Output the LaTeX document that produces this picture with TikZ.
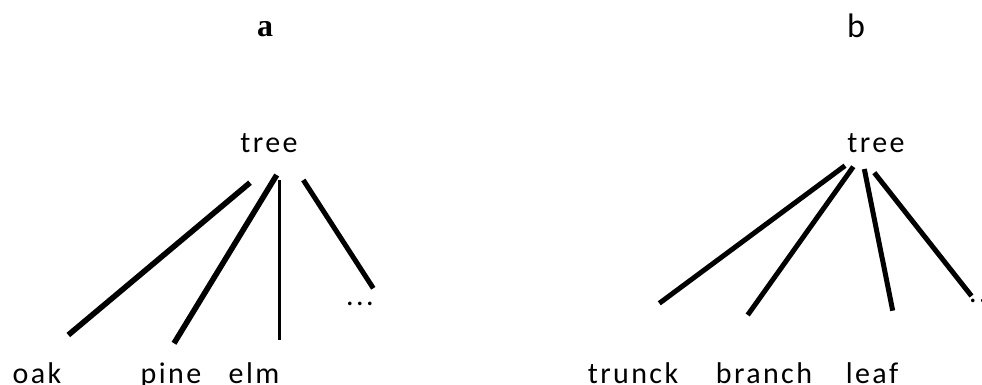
\documentclass[tikz,border=0pt]{standalone}
\usepackage{fontspec}
\newfontfamily\lblfont{Carlito}[LetterSpace=8]
\newfontfamily\bfont{Carlito}
\newfontfamily\afont{Liberation Serif}[BoldFont={Liberation Serif Bold}]
\begin{document}
\begin{tikzpicture}[x=1pt,y=-1pt,
  lbl/.style={inner sep=0pt,anchor=base,font=\lblfont\fontsize{30}{34}\selectfont},
  edgethick/.style={line width=5.6pt},
  edgemid/.style={line width=5pt},
  edgethin/.style={line width=3.2pt}]
\useasboundingbox (0,0) rectangle (982,385);
% panel a
\node[inner sep=0pt,anchor=base,font=\afont\bfseries\fontsize{32}{36}\selectfont] (ta) at (265,37) {a};
\node[lbl] (treeA) at (269,152) {tree};
\node[lbl] (oak) at (37,383) {oak};
\node[lbl] (pine) at (171,383) {pine};
\node[lbl] (elm) at (254,383) {elm};
\node[lbl] (dotsA) at (360,305) {...};
\coordinate (a1t) at (250,182.7); \coordinate (a1b) at (68.3,335);
\coordinate (a2t) at (276.7,175); \coordinate (a2b) at (174,343.3);
\coordinate (a3t) at (279.3,180); \coordinate (a3b) at (279.3,340);
\coordinate (a4t) at (303.3,180); \coordinate (a4b) at (373.3,288.3);
\draw[edgethick] (a1t) -- (a1b);
\draw[edgethick] (a2t) -- (a2b);
\draw[edgethin] (a3t) -- (a3b);
\draw[edgemid] (a4t) -- (a4b);
% panel b
\node[inner sep=0pt,anchor=base,font=\bfont\fontsize{34}{38}\selectfont] (tb) at (856,38) {b};
\node[lbl] (treeB) at (876,152) {tree};
\node[lbl] (trunck) at (633,383) {trunck};
\node[lbl] (branch) at (764,383) {branch};
\node[lbl] (leaf) at (872,383) {leaf};
\node[lbl,anchor=base west] (dotsB) at (969,302) {...};
\coordinate (b1t) at (845,165.7); \coordinate (b1b) at (659.3,303.3);
\coordinate (b2t) at (853.3,166.7); \coordinate (b2b) at (747.7,315);
\coordinate (b3t) at (864.3,169); \coordinate (b3b) at (892.7,310.7);
\coordinate (b4t) at (874.3,172.7); \coordinate (b4b) at (971.5,296);
\draw[edgemid] (b1t) -- (b1b);
\draw[edgemid] (b2t) -- (b2b);
\draw[edgemid] (b3t) -- (b3b);
\draw[edgemid] (b4t) -- (b4b);
\end{tikzpicture}
\end{document}
